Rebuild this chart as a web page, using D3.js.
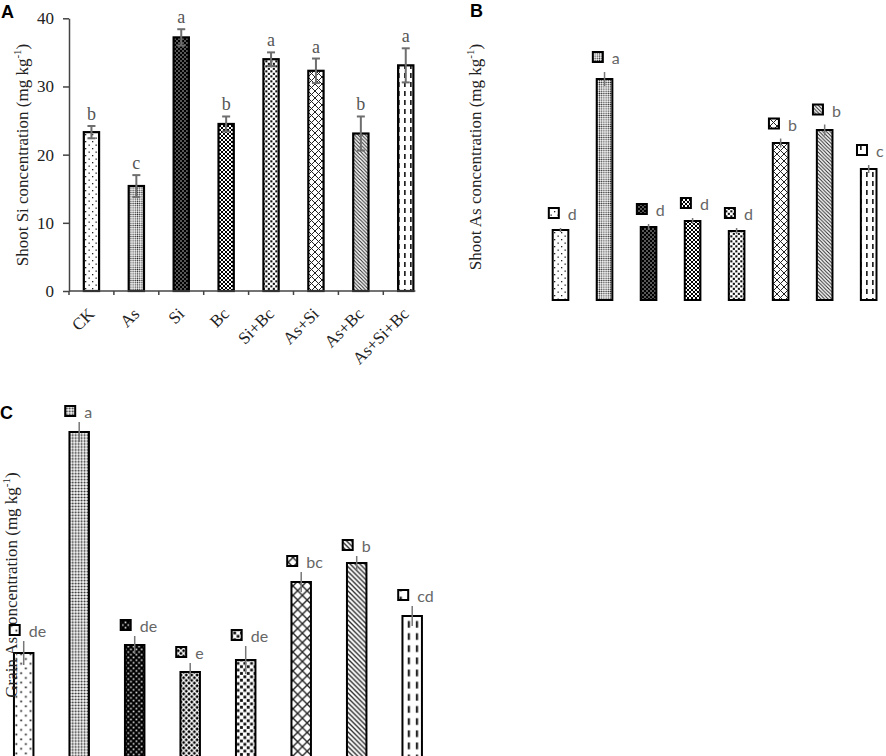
<!DOCTYPE html>
<html>
<head>
<meta charset="utf-8">
<script src="https://cdn.jsdelivr.net/npm/d3@7"></script>
<style>
  html, body { margin: 0; padding: 0; background: #fff; }
  svg { display: block; }
</style>
</head>
<body>
<div id="chart"></div>
<script>
// treatments and the bar fill of each one
var treatments = ["CK", "As", "Si", "Bc", "Si+Bc", "As+Si", "As+Bc", "As+Si+Bc"];
var patternKeys = ["ck", "as", "si", "bc", "sibc", "assi", "asbc", "assibc"];

// panel A: shoot Si (mg kg-1)
var shootSi = [23.3, 15.4, 37.2, 24.5, 34.0, 32.3, 23.1, 33.1];
var shootSiErr = [0.9, 1.6, 1.2, 1.1, 1.0, 1.8, 2.5, 2.5];
var shootSiLetters = ["b", "c", "a", "b", "a", "a", "b", "a"];
var siTicks = [0, 10, 20, 30, 40];

// panel B: shoot As (no axis drawn in the figure, values read as relative heights)
var shootAs = [7.0, 22.1, 7.3, 7.9, 6.9, 15.7, 17.0, 13.1];
var shootAsErr = [0.2, 0.7, 0.3, 0.3, 0.3, 0.45, 0.55, 0.4];
var shootAsLetters = ["d", "a", "d", "d", "d", "b", "b", "c"];

// panel C: grain As
var grainAs = [1.07, 3.28, 1.15, 0.88, 1.00, 1.78, 1.97, 1.44];
var grainAsErr = [0.12, 0.10, 0.09, 0.09, 0.14, 0.10, 0.07, 0.10];
var grainAsLetters = ["de", "a", "de", "e", "de", "bc", "b", "cd"];

var width = 886, height = 756;
var serif = "'Liberation Serif', 'Times New Roman', serif";
var sans = "'Liberation Sans', Arial, sans-serif";
var letterFont = "Lato, 'Open Sans', sans-serif";

var svg = d3.select("#chart").append("svg")
    .attr("width", width)
    .attr("height", height);

svg.append("rect").attr("width", width).attr("height", height).attr("fill", "#fff");

var defs = svg.append("defs");

// one set of hatch patterns per panel, scaled for the bar size
function makePatterns(suffix, k) {
    function pat(key, w, h) {
        return defs.append("pattern")
            .attr("id", key + suffix)
            .attr("patternUnits", "userSpaceOnUse")
            .attr("width", w).attr("height", h)
            .attr("patternTransform", "scale(" + k + ")");
    }
    var p;
    p = pat("ck", 7, 7);
    p.append("rect").attr("width", 7).attr("height", 7).attr("fill", "#fff");
    p.append("rect").attr("x", 1).attr("y", 1).attr("width", 1.3).attr("height", 1.3).attr("fill", "#222");
    p.append("rect").attr("x", 4.5).attr("y", 4.5).attr("width", 1.3).attr("height", 1.3).attr("fill", "#222");

    p = pat("as", 2.2, 2.2);
    p.append("rect").attr("width", 2.2).attr("height", 2.2).attr("fill", "#fff");
    p.append("circle").attr("cx", 1.1).attr("cy", 1.1).attr("r", 0.72).attr("fill", "#222");

    p = pat("si", 4, 4);
    p.append("rect").attr("width", 4).attr("height", 4).attr("fill", "#000");
    p.append("rect").attr("x", 0.4).attr("y", 0.4).attr("width", 1.2).attr("height", 1.2).attr("fill", "#eee");
    p.append("rect").attr("x", 2.4).attr("y", 2.4).attr("width", 1.2).attr("height", 1.2).attr("fill", "#eee");

    p = pat("bc", 4, 4);
    p.append("rect").attr("width", 4).attr("height", 4).attr("fill", "#000");
    p.append("path").attr("d", "M0,0L4,4M4,0L0,4").attr("stroke", "#fff").attr("stroke-width", 1);

    p = pat("sibc", 5, 5);
    p.append("rect").attr("width", 5).attr("height", 5).attr("fill", "#fff");
    p.append("rect").attr("x", 0.3).attr("y", 0.3).attr("width", 2.1).attr("height", 2.1).attr("fill", "#111");
    p.append("rect").attr("x", 2.8).attr("y", 2.8).attr("width", 2.1).attr("height", 2.1).attr("fill", "#111");

    p = pat("assi", 7, 7);
    p.append("rect").attr("width", 7).attr("height", 7).attr("fill", "#fff");
    p.append("path").attr("d", "M0,0L7,7M7,0L0,7").attr("stroke", "#222").attr("stroke-width", 1);

    p = pat("asbc", 3.6, 3.6);
    p.append("rect").attr("width", 3.6).attr("height", 3.6).attr("fill", "#fff");
    p.append("path").attr("d", "M0,0L3.6,3.6M-1,2.6L1,4.6M2.6,-1L4.6,1").attr("stroke", "#222").attr("stroke-width", 1);

    p = pat("assibc", 6, 9);
    p.append("rect").attr("width", 6).attr("height", 9).attr("fill", "#fff");
    p.append("rect").attr("x", 2).attr("y", 1).attr("width", 1.7).attr("height", 5).attr("fill", "#222");
}
makePatterns("-A", 1);
makePatterns("-B", 1);
makePatterns("-C", 1.35);

function panelLetter(txt, x, y) {
    svg.append("text").attr("x", x).attr("y", y)
        .attr("font-family", sans).attr("font-weight", "bold")
        .attr("font-size", 18).attr("fill", "#000").text(txt);
}

function yTitle(g, label, x, y) {
    var t = g.append("text")
        .attr("transform", "translate(" + x + "," + y + ") rotate(-90)")
        .attr("text-anchor", "middle")
        .attr("font-family", serif).attr("font-size", 17).attr("fill", "#222");
    t.append("tspan").text(label + " (mg kg");
    t.append("tspan").attr("font-size", 11).attr("dy", -7).text("-1");
    t.append("tspan").attr("dy", 7).text(")");
}

// ---------------- Panel A ----------------
var xA = d3.scaleBand().domain(treatments).range([69, 428.2]).paddingInner(0.66).paddingOuter(0.33);
var yA = d3.scaleLinear().domain([0, 40]).range([291, 18.3]);
var gA = svg.append("g");
var dataA = treatments.map(function(t, i) {
    return {name: t, key: patternKeys[i], v: shootSi[i], e: shootSiErr[i], l: shootSiLetters[i]};
});

gA.selectAll("rect.bar").data(dataA).enter().append("rect")
    .attr("class", "bar")
    .attr("x", function(d) { return xA(d.name); })
    .attr("y", function(d) { return yA(d.v); })
    .attr("width", xA.bandwidth())
    .attr("height", function(d) { return yA(0) - yA(d.v); })
    .attr("fill", function(d) { return "url(#" + d.key + "-A)"; })
    .attr("stroke", "#000").attr("stroke-width", 2.2);

var errA = gA.selectAll("g.err").data(dataA).enter().append("g")
    .attr("class", "err")
    .attr("stroke", "#6e6e6e").attr("stroke-width", 2);
errA.append("line")
    .attr("x1", function(d) { return xA(d.name) + xA.bandwidth() / 2; })
    .attr("x2", function(d) { return xA(d.name) + xA.bandwidth() / 2; })
    .attr("y1", function(d) { return yA(d.v + d.e); })
    .attr("y2", function(d) { return yA(d.v - d.e); });
errA.append("line")
    .attr("x1", function(d) { return xA(d.name) + xA.bandwidth() / 2 - 4; })
    .attr("x2", function(d) { return xA(d.name) + xA.bandwidth() / 2 + 4; })
    .attr("y1", function(d) { return yA(d.v + d.e); })
    .attr("y2", function(d) { return yA(d.v + d.e); });
errA.append("line")
    .attr("x1", function(d) { return xA(d.name) + xA.bandwidth() / 2 - 4; })
    .attr("x2", function(d) { return xA(d.name) + xA.bandwidth() / 2 + 4; })
    .attr("y1", function(d) { return yA(d.v - d.e); })
    .attr("y2", function(d) { return yA(d.v - d.e); });

gA.selectAll("text.sig").data(dataA).enter().append("text")
    .attr("class", "sig")
    .attr("x", function(d) { return xA(d.name) + xA.bandwidth() / 2; })
    .attr("y", function(d) { return yA(d.v + d.e) - 6; })
    .attr("text-anchor", "middle")
    .attr("font-family", serif).attr("font-size", 18).attr("fill", "#555")
    .text(function(d) { return d.l; });

// y axis
var axA = gA.append("g").attr("transform", "translate(69,0)")
    .call(d3.axisLeft(yA).tickValues(siTicks).tickSize(6).tickPadding(9).tickSizeOuter(0));
axA.select(".domain").attr("stroke", "#444").attr("stroke-width", 1.5);
axA.selectAll(".tick line").attr("stroke", "#444").attr("stroke-width", 1.5);
axA.selectAll(".tick text").attr("font-family", serif).attr("font-size", 17).attr("fill", "#222");

// x axis: line ends just after the last bar, ticks between categories
var lastA = treatments[treatments.length - 1];
var gapA = (xA.step() - xA.bandwidth()) / 2;
gA.append("line")
    .attr("x1", xA.range()[0]).attr("x2", xA(lastA) + xA.bandwidth() + 2)
    .attr("y1", yA(0)).attr("y2", yA(0))
    .attr("stroke", "#444").attr("stroke-width", 1.5);
gA.selectAll("line.xtick").data(treatments).enter().append("line")
    .attr("class", "xtick")
    .attr("x1", function(d) { return xA(d) - gapA; })
    .attr("x2", function(d) { return xA(d) - gapA; })
    .attr("y1", yA(0)).attr("y2", yA(0) + 4)
    .attr("stroke", "#444").attr("stroke-width", 1.5);

var axXA = gA.append("g").attr("transform", "translate(0," + yA(0) + ")")
    .call(d3.axisBottom(xA).tickSize(0));
axXA.select(".domain").remove();
axXA.selectAll(".tick text")
    .attr("x", 4).attr("y", 24).attr("dy", 0)
    .attr("text-anchor", "end")
    .attr("transform", "rotate(-45,4,24)")
    .attr("font-family", serif).attr("font-size", 17).attr("fill", "#222");

yTitle(gA, "Shoot Si concentration", 28, 155);
panelLetter("A", 1, 18);

// ---------------- Panel B ----------------
var xB = d3.scaleBand().domain(treatments).range([538.5, 890.7]).paddingInner(0.645).paddingOuter(0.3225);
var yB = d3.scaleLinear().domain([0, 25]).range([300, 50]);
var gB = svg.append("g");
var dataB = treatments.map(function(t, i) {
    return {name: t, key: patternKeys[i], v: shootAs[i], e: shootAsErr[i], l: shootAsLetters[i]};
});

yTitle(gB, "Shoot As concentration", 481, 157);

// ---------------- Panel C ----------------
var xC = d3.scaleBand().domain(treatments).range([-4.05, 439.95]).paddingInner(0.649).paddingOuter(0.3245);
var yC = d3.scaleLinear().domain([0, 3.5]).range([760, 410]);
var gC = svg.append("g");
var dataC = treatments.map(function(t, i) {
    return {name: t, key: patternKeys[i], v: grainAs[i], e: grainAsErr[i], l: grainAsLetters[i]};
});

// bars with thin error lines and swatch + letter labels (B and C share the style)
function drawSwatchBars(g, data, x, y, suffix, iconShift, iconGap, titleFn) {
    g.selectAll("rect.bar").data(data).enter().append("rect")
        .attr("class", "bar")
        .attr("x", function(d) { return x(d.name); })
        .attr("y", function(d) { return y(d.v); })
        .attr("width", x.bandwidth())
        .attr("height", function(d) { return y(0) - y(d.v); })
        .attr("fill", function(d) { return "url(#" + d.key + suffix + ")"; })
        .attr("stroke", "#000").attr("stroke-width", 2);

    g.selectAll("line.err").data(data).enter().append("line")
        .attr("class", "err")
        .attr("x1", function(d) { return x(d.name) + x.bandwidth() / 2; })
        .attr("x2", function(d) { return x(d.name) + x.bandwidth() / 2; })
        .attr("y1", function(d) { return y(d.v + d.e); })
        .attr("y2", function(d) { return y(d.v - d.e); })
        .attr("stroke", "#777").attr("stroke-width", 1.5);

    if (titleFn) titleFn();

    g.selectAll("rect.icon").data(data).enter().append("rect")
        .attr("class", "icon")
        .attr("x", function(d) { return x(d.name) + x.bandwidth() / 2 - iconShift; })
        .attr("y", function(d) { return y(d.v + d.e) - iconGap - 11; })
        .attr("width", 10).attr("height", 10)
        .attr("fill", function(d) { return "url(#" + d.key + suffix + ")"; })
        .attr("stroke", "#000").attr("stroke-width", 2);

    g.selectAll("text.sig").data(data).enter().append("text")
        .attr("class", "sig")
        .attr("x", function(d) { return x(d.name) + x.bandwidth() / 2 - iconShift + 19; })
        .attr("y", function(d) { return y(d.v + d.e) - iconGap + 1; })
        .attr("font-family", letterFont).attr("font-size", 16).attr("fill", "#666")
        .text(function(d) { return d.l; });
}

drawSwatchBars(gB, dataB, xB, yB, "-B", 11.7, 9, null);
drawSwatchBars(gC, dataC, xC, yC, "-C", 14, 5, function() {
    yTitle(gC, "Grain As concentration", 17, 585);
});

panelLetter("B", 470, 17);
panelLetter("C", 0, 419);
</script>
</body>
</html>
